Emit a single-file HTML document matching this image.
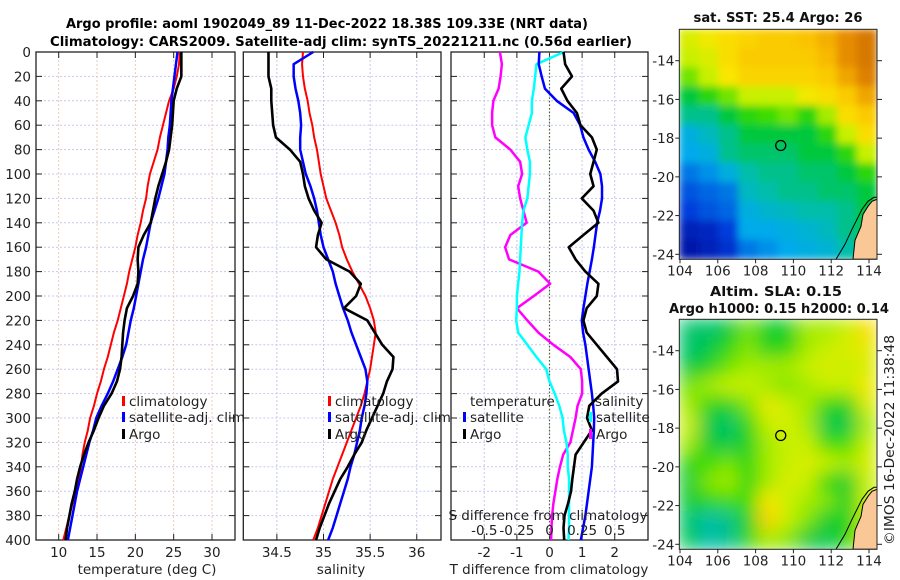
<!DOCTYPE html>
<html><head><meta charset="utf-8">
<style>
body{margin:0;background:#fff;}
svg{display:block;font-family:"DejaVu Sans","Liberation Sans",sans-serif;}
</style></head>
<body>
<svg id="fig" width="900" height="580" viewBox="0 0 900 580" xmlns="http://www.w3.org/2000/svg">
<defs>
<filter id="blur1" x="0" y="0" width="1" height="1"><feGaussianBlur stdDeviation="4"/></filter>
<filter id="blur2" x="0" y="0" width="1" height="1"><feGaussianBlur stdDeviation="9"/></filter>
<clipPath id="clipm1"><rect x="679.3" y="29.3" width="197.7" height="229.7"/></clipPath>
<clipPath id="clipm2"><rect x="679.3" y="319.3" width="197.7" height="230"/></clipPath>
</defs>
<text x="327" y="28" text-anchor="middle" font-size="13" font-weight="bold" textLength="522" lengthAdjust="spacingAndGlyphs">Argo profile: aoml 1902049_89 11-Dec-2022 18.38S 109.33E (NRT data)</text>
<text x="341" y="46" text-anchor="middle" font-size="13" font-weight="bold" textLength="582" lengthAdjust="spacingAndGlyphs">Climatology: CARS2009. Satellite-adj clim: synTS_20221211.nc (0.56d earlier)</text>
<g id="panels"></g>
<g id="maps"></g>
<text transform="translate(894,440) rotate(-90)" text-anchor="middle" font-size="13" fill="#222" textLength="210" lengthAdjust="spacingAndGlyphs">©IMOS 16-Dec-2022 11:38:48</text>
</svg>
<script>
const depths=[0,10,20,30,40,50,60,70,80,90,100,110,120,130,140,150,160,170,180,190,200,210,220,230,240,250,260,270,280,290,300,310,320,330,340,350,360,370,380,390,400];
const tempClim=[25.8,25.7,25.4,25.0,24.4,24.0,23.6,23.2,22.9,22.4,21.9,21.6,21.4,21.0,20.7,20.3,20.0,19.6,19.2,18.9,18.5,18.1,17.7,17.2,16.8,16.4,15.9,15.5,15.0,14.6,14.1,13.8,13.4,13.1,12.9,12.6,12.2,11.8,11.4,11.0,10.6];
const tempSat=[25.5,25.3,25.1,24.9,24.7,24.6,24.5,24.3,24.2,24.0,23.8,23.4,23.0,22.5,22.0,21.7,21.4,21.0,20.7,20.4,20.1,19.8,19.4,19.1,18.8,18.3,17.7,17.1,16.4,15.6,14.9,14.5,14.0,13.6,13.2,12.8,12.4,12.1,11.8,11.5,11.2];
const tempArgo=[26.0,26.0,26.0,25.4,25.0,24.9,24.8,24.6,24.4,24.0,23.5,23.0,22.6,22.3,22.0,21.1,20.4,20.3,20.4,20.3,19.7,18.9,18.6,18.4,18.3,18.2,18.0,17.6,16.9,15.9,15.2,14.6,13.9,13.3,12.8,12.4,12.1,11.7,11.4,11.1,10.9];
const salClim=[34.78,34.77,34.78,34.80,34.83,34.85,34.88,34.90,34.93,34.95,34.97,35.0,35.03,35.08,35.13,35.17,35.20,35.25,35.31,35.38,35.45,35.50,35.54,35.56,35.54,35.52,35.50,35.47,35.44,35.40,35.35,35.30,35.25,35.20,35.15,35.10,35.06,35.02,34.98,34.94,34.89];
const salSat=[34.89,34.68,34.68,34.70,34.73,34.75,34.76,34.75,34.75,34.78,34.81,34.86,34.90,34.93,34.95,34.97,35.0,35.05,35.10,35.13,35.17,35.21,35.26,35.30,35.35,35.40,35.45,35.47,35.46,35.44,35.41,35.39,35.36,35.33,35.29,35.26,35.22,35.18,35.14,35.10,35.05];
const salArgo=[34.41,34.41,34.41,34.44,34.44,34.45,34.46,34.49,34.64,34.75,34.78,34.80,34.84,34.90,34.98,34.94,34.92,35.03,35.28,35.40,35.35,35.22,35.47,35.55,35.63,35.75,35.74,35.68,35.64,35.58,35.52,35.46,35.41,35.33,35.26,35.18,35.12,35.06,35.01,34.96,34.92];
const tDiffSat=[-0.31,-0.33,-0.24,-0.14,0.22,0.74,0.94,1.04,1.2,1.4,1.56,1.61,1.61,1.55,1.46,1.41,1.36,1.3,1.23,1.16,1.1,1.04,0.99,1.03,1.1,1.15,1.2,1.25,1.3,1.34,1.37,1.36,1.34,1.32,1.3,1.25,1.2,1.15,1.1,1.03,0.96];
const tDiffArgo=[0.43,0.48,0.69,0.36,0.55,0.84,0.95,1.3,1.45,1.35,1.25,1.35,0.99,1.35,1.5,1.04,0.59,0.8,1.1,1.5,1.45,1.14,1.04,1.14,1.45,1.76,2.07,2.1,1.6,1.22,1.15,1.3,1.05,0.8,0.75,0.7,0.66,0.57,0.46,0.43,0.45];
const sDiffSat=[0.11,-0.10,-0.11,-0.12,-0.135,-0.135,-0.16,-0.185,-0.17,-0.15,-0.15,-0.16,-0.17,-0.2,-0.21,-0.215,-0.22,-0.225,-0.23,-0.24,-0.25,-0.25,-0.255,-0.24,-0.17,-0.10,-0.025,0,0.04,0.075,0.10,0.11,0.13,0.14,0.14,0.15,0.15,0.15,0.15,0.15,0.145];
const sDiffArgo=[-0.38,-0.365,-0.375,-0.39,-0.43,-0.44,-0.44,-0.415,-0.3,-0.225,-0.21,-0.24,-0.225,-0.2,-0.175,-0.3,-0.34,-0.31,-0.085,0.005,-0.12,-0.25,-0.17,-0.085,0.03,0.16,0.24,0.25,0.25,0.215,0.2,0.18,0.16,0.105,0.08,0.06,0.045,0.03,0.02,0.015,0.0125];
const depthTicks=[0,20,40,60,80,100,120,140,160,180,200,220,240,260,280,300,320,340,360,380,400];
const tempTicks=[10,15,20,25,30];
const salTicks=[34.5,35,35.5,36];
const salTickLabels=["34.5","35","35.5","36"];
const tDiffTicks=[-2,-1,0,1,2];
const sDiffTicks=[-0.5,-0.25,0,0.25,0.5];
const sDiffTickLabels=["-0.5","-0.25","0","0.25","0.5"];
const sstGrid=[
[.62,.65,.68,.70,.72,.72,.74,.78,.85,.90],
[.60,.62,.68,.72,.72,.72,.72,.76,.85,.90],
[.55,.60,.66,.70,.70,.70,.70,.72,.80,.88],
[.45,.50,.55,.60,.60,.60,.65,.68,.72,.80],
[.40,.40,.45,.50,.52,.55,.50,.58,.68,.72],
[.30,.35,.40,.45,.45,.45,.45,.50,.60,.68],
[.28,.30,.40,.42,.42,.42,.45,.45,.50,.60],
[.22,.25,.30,.38,.40,.40,.42,.42,.45,.50],
[.18,.20,.22,.35,.38,.40,.40,.42,.42,.45],
[.15,.18,.20,.30,.33,.35,.38,.38,.40,.45],
[.08,.10,.15,.28,.28,.30,.32,.35,.40,.45],
[.05,.08,.12,.22,.25,.28,.30,.32,.38,.45]];
const slaGrid=[
[.42,.42,.45,.55,.47,.47,.58,.58,.60,.68],
[.42,.44,.50,.56,.48,.50,.58,.60,.62,.64],
[.45,.48,.55,.58,.58,.58,.60,.62,.60,.62],
[.55,.58,.60,.60,.58,.56,.58,.60,.60,.65],
[.58,.50,.48,.56,.64,.60,.58,.50,.48,.62],
[.60,.44,.42,.50,.60,.62,.58,.44,.44,.58],
[.58,.46,.44,.48,.58,.60,.60,.52,.52,.60],
[.50,.52,.55,.50,.58,.60,.62,.60,.58,.62],
[.46,.56,.58,.50,.58,.62,.60,.50,.46,.60],
[.46,.50,.52,.52,.66,.60,.58,.56,.48,.60],
[.42,.38,.40,.48,.70,.60,.56,.46,.48,.60],
[.44,.38,.40,.50,.58,.56,.45,.44,.50,.60]];
const lonTicks=[104,106,108,110,112,114];
const latTicks=[-14,-16,-18,-20,-22,-24];
const argoLon=109.33, argoLat=-18.38;

const NS="http://www.w3.org/2000/svg";
function mk(tag,attrs,parent){const e=document.createElementNS(NS,tag);for(const k in attrs)e.setAttribute(k,attrs[k]);parent.appendChild(e);return e;}
const panels=document.getElementById('panels');
const Y0=52,Y1=540;
const FS=13.5;
function yS(d){return Y0+(d-0)/(400-0)*(Y1-Y0);}
function lin(d0,d1,r0,r1){return v=>r0+(v-d0)/(d1-d0)*(r1-r0);}

function frame(x0,x1,name,xTicks,xs,labels,vgrid){
  const g=mk('g',{},panels);
  
  
  depthTicks.forEach(d=>{const l=mk('line',{x1:x0,x2:x1,y1:yS(d),y2:yS(d),stroke:'#c4c8ee','stroke-width':1,'stroke-dasharray':'2,2'},g);
    });
  xTicks.forEach((t,i)=>{const x=xs(t);
    const l=mk('line',{x1:x,x2:x,y1:Y0,y2:Y1,stroke:vgrid,'stroke-width':1,'stroke-dasharray':'2,2'},g);
    
    mk('line',{x1:x,x2:x,y1:Y1,y2:Y1-6,stroke:'#222'},g);
    mk('line',{x1:x,x2:x,y1:Y0,y2:Y0+6,stroke:'#222'},g);
    const tx=mk('text',{x:x,y:557,'text-anchor':'middle','font-size':FS,fill:'#222'},g);
    
    tx.textContent=labels[i];});
  depthTicks.forEach(d=>{mk('line',{x1:x0,x2:x0+6,y1:yS(d),y2:yS(d),stroke:'#222'},g);mk('line',{x1:x1,x2:x1-6,y1:yS(d),y2:yS(d),stroke:'#222'},g);});
  const r=mk('rect',{x:x0,y:Y0,width:x1-x0,height:Y1-Y0,fill:'none',stroke:'#222','stroke-width':1.3},g);
  
  return g;
}
function series(g,vals,xs,color,w,name){
  const pts=vals.map((v,i)=>xs(v).toFixed(2)+','+yS(depths[i]).toFixed(2)).join(' ');
  const p=mk('polyline',{points:pts,fill:'none',stroke:color,'stroke-width':w,'stroke-linejoin':'round'},g);
  
}
function legend(g,x,y,color,label,name){
  const r=mk('rect',{x:x,y:y-10,width:3,height:10,fill:color},g);
  
  const t=mk('text',{x:x+7,y:y,'font-size':FS,fill:'#222'},g);
  
  t.textContent=label;
}
function title(text,x,y,name){const t=mk('text',{x:x,y:y,'text-anchor':'middle','font-size':FS,fill:'#222'},panels);
  t.textContent=text;}

depthTicks.forEach(d=>{const t=mk('text',{x:31,y:yS(d)+5,'text-anchor':'end','font-size':FS,fill:'#222'},panels);
  t.textContent=d;});

// Panel 1
const xs1=lin(7.04,33.0,36,235);
const g1=frame(36,235,'temperature-panel',tempTicks,xs1,tempTicks.map(String),'#efc8b8');
series(g1,tempClim,xs1,'#ff0000',2,'temp-climatology-line');
series(g1,tempSat,xs1,'#0000ff',2.5,'temp-satellite-line');
series(g1,tempArgo,xs1,'#000000',2.6,'temp-argo-line');
legend(g1,122,406,'#ff0000','climatology','legend-climatology');
legend(g1,122,422,'#0000ff','satellite-adj. clim','legend-satellite');
legend(g1,122,439,'#000000','Argo','legend-argo');
title('temperature (deg C)',147,574,'temperature-axis-title');

// Panel 2
const xs2=lin(34.14,36.26,243.3,441);
const g2=frame(243.3,441,'salinity-panel',salTicks,xs2,salTickLabels,'#c4c8ee');
series(g2,salClim,xs2,'#ff0000',2,'sal-climatology-line');
series(g2,salSat,xs2,'#0000ff',2.5,'sal-satellite-line');
series(g2,salArgo,xs2,'#000000',2.6,'sal-argo-line');
legend(g2,328,406,'#ff0000','climatology','legend-climatology');
legend(g2,328,422,'#0000ff','satellite-adj. clim','legend-satellite');
legend(g2,328,439,'#000000','Argo','legend-argo');
title('salinity',341,574,'salinity-axis-title');

// Panel 3
const xsT=lin(-3.02,3.02,451,648);
const xsS=lin(-0.755,0.755,451,648);
const g3=frame(451,648,'difference-panel',tDiffTicks,xsT,tDiffTicks.map(String),'#c4c8ee');
const zl=mk('line',{x1:xsT(0),x2:xsT(0),y1:Y0,y2:Y1,stroke:'#556633','stroke-width':1.2,'stroke-dasharray':'1.5,2'},g3);

series(g3,sDiffArgo,xsS,'#ff00ff',2.5,'sal-diff-argo-line');
series(g3,sDiffSat,xsS,'#00ffff',2.5,'sal-diff-satellite-line');
series(g3,tDiffSat,xsT,'#0000ff',2.5,'temp-diff-satellite-line');
series(g3,tDiffArgo,xsT,'#000000',2.6,'temp-diff-argo-line');
const lt=mk('text',{x:470,y:406,'font-size':FS,fill:'#222'},g3);lt.textContent='temperature';
legend(g3,463,422,'#0000ff','satellite','legend-temp-satellite');
legend(g3,463,439,'#000000','Argo','legend-temp-argo');
const ls=mk('text',{x:595,y:406,'font-size':FS,fill:'#222'},g3);ls.textContent='salinity';
legend(g3,589,422,'#00ffff','satellite','legend-sal-satellite');
legend(g3,589,439,'#ff00ff','Argo','legend-sal-argo');
const st=mk('text',{x:548,y:520,'text-anchor':'middle','font-size':FS,fill:'#222'},g3);st.textContent='S difference from climatology';
sDiffTicks.forEach((t,i)=>{const tx=mk('text',{x:xsS(t),y:535,'text-anchor':'middle','font-size':FS,fill:'#222'},g3);
  tx.textContent=sDiffTickLabels[i];});
title('T difference from climatology',549,574,'t-diff-axis-title');

// Maps
const maps=document.getElementById('maps');
const stops=[[0,[0,0,140]],[0.15,[0,60,220]],[0.28,[0,170,235]],[0.38,[0,190,170]],[0.45,[0,200,60]],[0.52,[60,220,0]],[0.6,[200,240,0]],[0.66,[250,230,0]],[0.75,[250,190,0]],[0.85,[230,140,0]],[0.95,[200,100,0]],[1,[190,90,0]]];
function cmap(v){for(let i=1;i<stops.length;i++){if(v<=stops[i][0]){const a=stops[i-1],b=stops[i];const f=(v-a[0])/(b[0]-a[0]);
  const c=a[1].map((x,k)=>Math.round(x+(b[1][k]-x)*f));return 'rgb('+c.join(',')+')';}}return 'rgb(190,90,0)';}
function drawMap(top,grid,name,filt,clip,titles){
  const L=679.3,R=877,T=top,B=top+230;
  const g=mk('g',{},maps);
  const lonS=lin(104,114,680,869), latS=lin(-14,-24,top+31.4,top+225);
  const cg=mk('g',{'clip-path':'url(#'+clip+')'},g);
  const ig=mk('g',{filter:'url(#'+filt+')'},cg);
  const rows=grid.length,cols=grid[0].length,cw=(R-L)/cols,ch=(B-T)/rows;
  mk('rect',{x:L,y:T,width:R-L,height:B-T,fill:cmap(grid[6][5])},ig);
  grid.forEach((row,r)=>row.forEach((v,c)=>{const e=mk('rect',{x:L+c*cw-0.5,y:T+r*ch-0.5,width:cw+1,height:ch+1,fill:cmap(v)},ig);
    }));
  const land=mk('polygon',{points:[[853,B],[855,B-19],[861,B-33],[863,B-45],[868,B-53],[872,B-58],[877,B-60],[877,B]].map(p=>p.join(',')).join(' '),fill:'#f9c896',stroke:'#000','stroke-width':1},cg);
  
  mk('polyline',{points:[[836,B],[845,B-15],[852,B-30],[858,B-42],[862,B-50],[868,B-58],[874,B-62],[877,B-62]].map(p=>p.join(',')).join(' '),fill:'none',stroke:'#000','stroke-width':1},cg);
  const m=mk('circle',{cx:lonS(argoLon),cy:latS(argoLat),r:5,fill:'none',stroke:'#000','stroke-width':1.3},g);
  
  mk('rect',{x:L,y:T,width:R-L,height:B-T,fill:'none',stroke:'#222','stroke-width':1},g);
  lonTicks.forEach(t=>{const x=lonS(t);mk('line',{x1:x,x2:x,y1:B,y2:B+4,stroke:'#222'},g);
    const tx=mk('text',{x:x,y:B+16,'text-anchor':'middle','font-size':FS,fill:'#222'},g);
    tx.textContent=t;});
  latTicks.forEach(t=>{const y=latS(t);mk('line',{x1:L-4,x2:L,y1:y,y2:y,stroke:'#222'},g);mk('line',{x1:R,x2:R+5,y1:y,y2:y,stroke:'#222'},g);
    const tx=mk('text',{x:L-5,y:y+5,'text-anchor':'end','font-size':FS,fill:'#222'},g);
    tx.textContent=t;});
  titles.forEach(s=>{const tx=mk('text',{x:s[2],y:s[1],'text-anchor':'middle','font-size':13,'font-weight':'bold',fill:'#111',textLength:s[3],lengthAdjust:'spacingAndGlyphs'},g);
    tx.textContent=s[0];});
}
drawMap(29.3,sstGrid,'sst-map','blur1','clipm1',[['sat. SST: 25.4 Argo: 26',22,778,169]]);
drawMap(319.3,slaGrid,'sla-map','blur2','clipm2',[['Altim. SLA: 0.15',296,776,132],['Argo h1000: 0.15 h2000: 0.14',313,779,220]]);
</script>
</body></html>
